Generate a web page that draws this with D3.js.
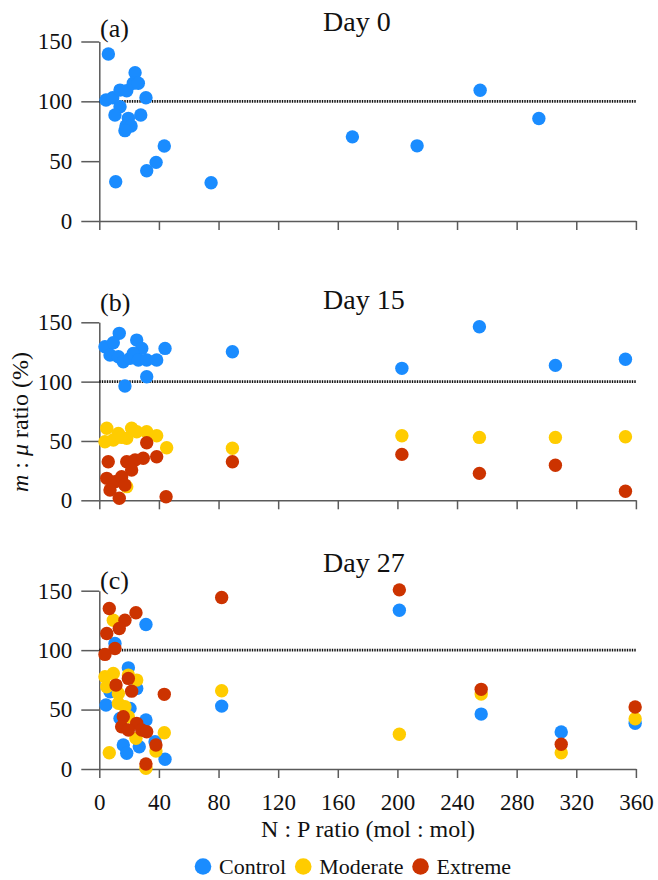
<!DOCTYPE html>
<html>
<head>
<meta charset="utf-8">
<script src="https://cdn.jsdelivr.net/npm/d3@7"></script>
</head>
<body style="margin:0">
<svg id="chart" width="658" height="880"></svg>
<script>
// N:P ratio vs m:mu ratio (%), [np, ratio]
var day0Control = [
  [6.1, 139.5], [4.5, 101.1], [9, 103], [13.9, 109.4], [18.4, 108.9], [24, 123.9],
  [22.8, 115.1], [26.2, 115.1], [31.3, 103], [13.9, 95.5], [10.5, 88.6], [19.5, 85.8],
  [17.9, 79.4], [21.3, 79.4], [17.2, 75.5], [27.8, 88.6], [43.6, 62.7], [38.1, 49],
  [31.8, 42], [11, 32.8], [75, 32], [169.8, 70.3], [213.2, 62.8], [255.5, 109.2], [294.9, 85.7]
];

var day15Control = [
  [13.4, 140.7], [3.8, 129.4], [9.4, 132.8], [25.1, 135], [28.5, 128], [7.2, 122.4],
  [12.8, 121], [16.1, 116.8], [20.6, 119.6], [22.8, 123.8], [26.2, 118.2], [31.8, 118.2],
  [38.5, 118.2], [44.1, 128], [31.8, 104.1], [17.2, 96.3],
  [89.3, 125.2], [203, 111.2], [255, 146.3], [306, 113.7], [353, 118.8]
];
var day15Moderate = [
  [5, 60.7], [3.8, 49.4], [12.8, 56.4], [21.7, 60.7], [25.1, 57.8], [31.8, 57.8],
  [38.5, 54.4], [45.2, 44.3], [18.4, 52.2], [9.4, 50.8], [15, 53], [18.4, 11.5],
  [89.3, 43.8], [203, 54.4], [255, 53], [306, 53], [353, 53.6]
];
var day15Extreme = [
  [31.8, 48.5], [6, 32.5], [18.4, 32.5], [24, 34], [29.5, 35.4], [38.5, 36.7],
  [21.7, 25.5], [5, 18.5], [10.5, 15.7], [15, 19.9], [7.2, 8.7], [17.2, 12.9],
  [13.4, 1.7], [44.8, 3],
  [89.3, 32.5], [203, 38.7], [255, 22.7], [306, 29.5], [353, 7.6]
];

var day27Control = [
  [31.3, 121.6], [10.5, 105.6], [19.5, 85.1], [7.2, 65], [25.1, 67.8], [4.5, 53.8],
  [20.6, 51], [13.9, 42.6], [31.3, 41.2], [16.1, 20.2], [18.4, 13.2], [26.8, 18.7],
  [37.4, 22.9], [44.1, 8.2],
  [82.1, 52.9], [201.3, 133.6], [256.2, 46.2], [309.9, 31.1], [359.5, 38.4]
];
var day27Moderate = [
  [9.4, 125.2], [3.8, 77.6], [9.4, 80.4], [5, 69.2], [19.5, 79], [25.1, 74.8],
  [12.8, 63.6], [12.8, 55.2], [17.2, 52.4], [19.5, 44], [24.6, 25.8], [43.6, 30.5],
  [6.7, 13.7], [38, 15.1], [31.3, 0.6],
  [82.1, 65.8], [201.3, 29.2], [256.2, 63], [309.9, 13.7], [359.5, 42.3]
];
var day27Extreme = [
  [6.7, 135], [24.6, 131.4], [17.2, 125.2], [13.4, 118.2], [5, 114], [10.5, 101.4],
  [3.8, 96.4], [19.5, 76.2], [11.2, 70.6], [21.7, 65.5], [43.6, 62.8], [16.1, 44],
  [15, 35.6], [25.1, 38.4], [28.5, 32.8], [31.8, 31.4], [19.5, 32.8], [38, 20.2], [31.3, 4.2],
  [82.1, 144.3], [201.3, 150.7], [256.2, 67], [309.9, 20.8], [359.5, 52.1]
];

var xTicks = [0, 40, 80, 120, 160, 200, 240, 280, 320, 360];
var yTicks = [0, 50, 100, 150];
var treatments = ["Control", "Moderate", "Extreme"];
var COLORS = {"Control": "#1a8cff", "Moderate": "#ffcc00", "Extreme": "#cc3300"};

var panels = [
  {tag: "(a)", title: "Day 0", series: {"Control": day0Control}},
  {tag: "(b)", title: "Day 15", series: {"Control": day15Control, "Moderate": day15Moderate, "Extreme": day15Extreme}},
  {tag: "(c)", title: "Day 27", series: {"Control": day27Control, "Moderate": day27Moderate, "Extreme": day27Extreme}}
];

// layout (pixel positions of y=0 and y=150 per panel)
var PANEL_Y = [[221, 41.5], [500.3, 322.3], [769, 590.7]];
var TAG_Y = [37, 311, 589];
var TITLE_Y = [31, 309, 572];
var DOT_R = 6.7;
var AXIS_COLOR = "#5a5a5a";
var FONT = "'Liberation Serif'";

var svg = d3.select("#chart");
var x = d3.scaleLinear().domain([0, 360]).range([99.3, 635.9]);

function addText(parent, size) {
  return parent.append("text")
      .attr("font-size", size)
      .attr("fill", "#111")
      .style("font-family", FONT);
}

panels.forEach(function(p, i) {
  var y = d3.scaleLinear().domain([0, 150]).range(PANEL_Y[i]);
  var g = svg.append("g");

  var yAxis = g.append("g")
      .attr("transform", "translate(" + x(0) + ",0)")
      .call(d3.axisLeft(y).tickValues(yTicks).tickSize(18).tickSizeOuter(0).tickPadding(9));
  var xAxis = g.append("g")
      .attr("transform", "translate(0," + y(0) + ")")
      .call(d3.axisBottom(x).tickValues(xTicks).tickSize(9).tickSizeOuter(0).tickPadding(16)
            .tickFormat(i === 2 ? d3.format("d") : ""));

  [yAxis, xAxis].forEach(function(a) {
    a.attr("font-size", 23).attr("font-family", null);
    a.selectAll("path, line").attr("stroke", AXIS_COLOR).attr("stroke-width", 1.5);
    a.selectAll("text").attr("fill", "#111").style("font-family", FONT);
  });

  // reference line at 100 %
  g.append("line")
      .attr("x1", x(0)).attr("x2", x(360))
      .attr("y1", y(100)).attr("y2", y(100))
      .attr("stroke", "#111")
      .attr("stroke-width", 2.6)
      .attr("stroke-dasharray", "1.4,1.1");

  treatments.forEach(function(t) {
    if (!p.series[t]) return;
    g.selectAll("circle." + t)
      .data(p.series[t])
      .enter()
      .append("circle")
      .attr("class", t)
      .attr("cx", function(d) { return x(d[0]); })
      .attr("cy", function(d) { return y(d[1]); })
      .attr("r", DOT_R)
      .attr("fill", COLORS[t]);
  });

  addText(g, 26).attr("x", 100).attr("y", TAG_Y[i]).text(p.tag);
  addText(g, 28).attr("x", 323).attr("y", TITLE_Y[i]).text(p.title);
});

// y axis title
var yLabel = addText(svg, 24)
    .attr("transform", "translate(28,422) rotate(-90)")
    .attr("text-anchor", "middle");
yLabel.append("tspan").attr("font-style", "italic").text("m");
yLabel.append("tspan").text(" : ");
yLabel.append("tspan").attr("font-style", "italic").text("μ");
yLabel.append("tspan").text(" ratio (%)");

// x axis title
addText(svg, 24)
    .attr("x", 368).attr("y", 837)
    .attr("text-anchor", "middle")
    .text("N : P ratio (mol : mol)");

// legend
var legendX = 203;
treatments.forEach(function(t) {
  svg.append("circle")
      .attr("cx", legendX).attr("cy", 866.5)
      .attr("r", 8.3)
      .attr("fill", COLORS[t]);
  var label = addText(svg, 22)
      .attr("x", legendX + 16).attr("y", 873.5)
      .text(t);
  legendX += 16 + label.node().getComputedTextLength() + 17;
});
</script>
</body>
</html>
